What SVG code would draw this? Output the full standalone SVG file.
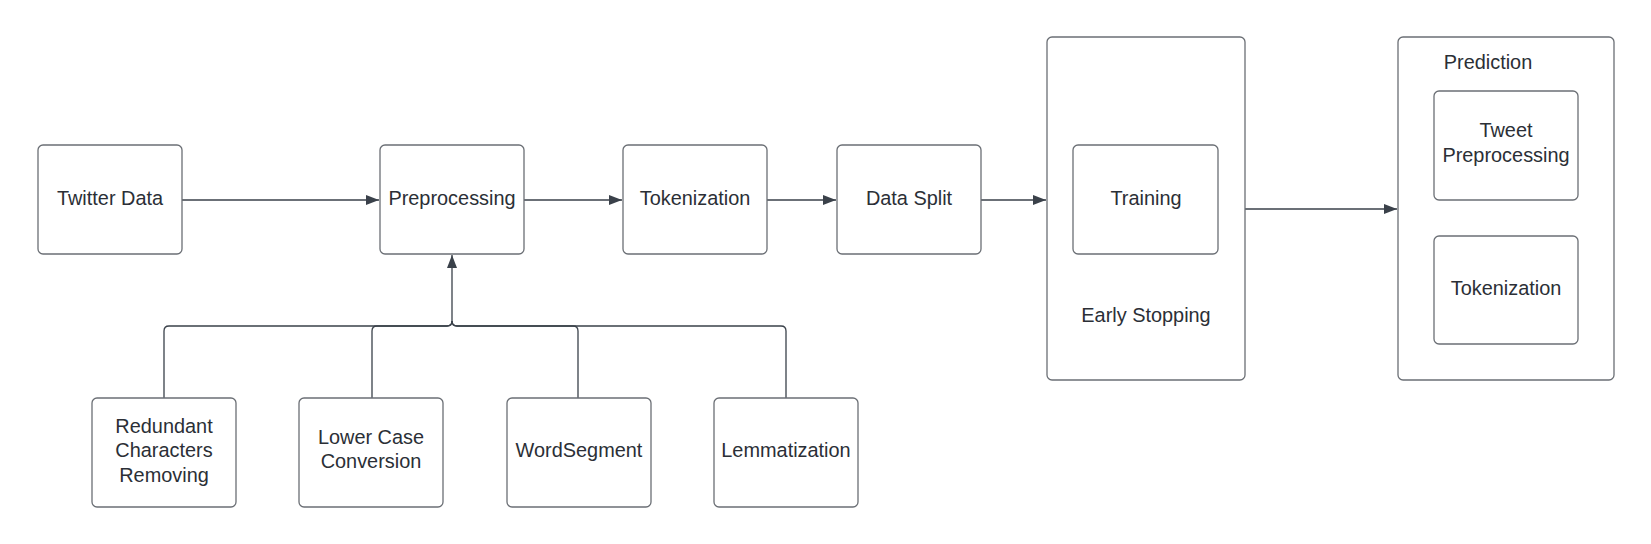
<svg xmlns="http://www.w3.org/2000/svg" width="1651" height="544" viewBox="0 0 1651 544">
<style>
.box{fill:#fff;stroke:#6b6f75;stroke-width:1.3}
.t{font-family:"Liberation Sans",Arial,sans-serif;font-size:19.9px;fill:#2b2f36;text-anchor:middle}
.c{fill:none;stroke:#3a414a;stroke-width:1.3}
</style>
<defs>
<marker id="ah" markerWidth="14" markerHeight="10" refX="13" refY="5" orient="auto" markerUnits="userSpaceOnUse">
<path d="M0,0 L13,5 L0,10 Z" fill="#3a414a"/>
</marker>
</defs>
<rect width="1651" height="544" fill="#fff"/>
<g id="connectors">
<path class="c" d="M182,200 H379" marker-end="url(#ah)"/>
<path class="c" d="M524,200 H622" marker-end="url(#ah)"/>
<path class="c" d="M767,200 H836" marker-end="url(#ah)"/>
<path class="c" d="M981,200 H1046" marker-end="url(#ah)"/>
<path class="c" d="M1245,209 H1397" marker-end="url(#ah)"/>
<path class="c" d="M164,398 V331 Q164,326 169,326 H447 Q452,326 452,321"/>
<path class="c" d="M372,398 V331 Q372,326 377,326 H447 Q452,326 452,321"/>
<path class="c" d="M578,398 V331 Q578,326 573,326 H457 Q452,326 452,321"/>
<path class="c" d="M786,398 V331 Q786,326 781,326 H457 Q452,326 452,321"/>
<path class="c" d="M452,321 V255" marker-end="url(#ah)"/>
</g>
<g id="twitter-data"><rect class="box" x="38" y="145" width="144" height="109" rx="5"/><text class="t" x="110" y="205">Twitter Data</text></g>
<g id="preprocessing"><rect class="box" x="380" y="145" width="144" height="109" rx="5"/><text class="t" x="452" y="205">Preprocessing</text></g>
<g id="tokenization"><rect class="box" x="623" y="145" width="144" height="109" rx="5"/><text class="t" x="695" y="205">Tokenization</text></g>
<g id="data-split"><rect class="box" x="837" y="145" width="144" height="109" rx="5"/><text class="t" x="909" y="205">Data Split</text></g>
<g id="training-group"><rect class="box" x="1047" y="37" width="198" height="343" rx="5"/><text class="t" x="1146" y="322">Early Stopping</text></g>
<g id="training"><rect class="box" x="1073" y="145" width="145" height="109" rx="5"/><text class="t" x="1146" y="205">Training</text></g>
<g id="prediction"><rect class="box" x="1398" y="37" width="216" height="343" rx="5"/><text class="t" x="1488" y="69">Prediction</text></g>
<g id="tweet-preprocessing"><rect class="box" x="1434" y="91" width="144" height="109" rx="5"/><text class="t" x="1506" y="137">Tweet</text><text class="t" x="1506" y="162">Preprocessing</text></g>
<g id="pred-tokenization"><rect class="box" x="1434" y="236" width="144" height="108" rx="5"/><text class="t" x="1506" y="295">Tokenization</text></g>
<g id="redundant"><rect class="box" x="92" y="398" width="144" height="109" rx="5"/><text class="t" x="164" y="433">Redundant</text><text class="t" x="164" y="457">Characters</text><text class="t" x="164" y="482">Removing</text></g>
<g id="lower-case"><rect class="box" x="299" y="398" width="144" height="109" rx="5"/><text class="t" x="371" y="444">Lower Case</text><text class="t" x="371" y="468">Conversion</text></g>
<g id="wordsegment"><rect class="box" x="507" y="398" width="144" height="109" rx="5"/><text class="t" x="579" y="457">WordSegment</text></g>
<g id="lemmatization"><rect class="box" x="714" y="398" width="144" height="109" rx="5"/><text class="t" x="786" y="457">Lemmatization</text></g>
</svg>
